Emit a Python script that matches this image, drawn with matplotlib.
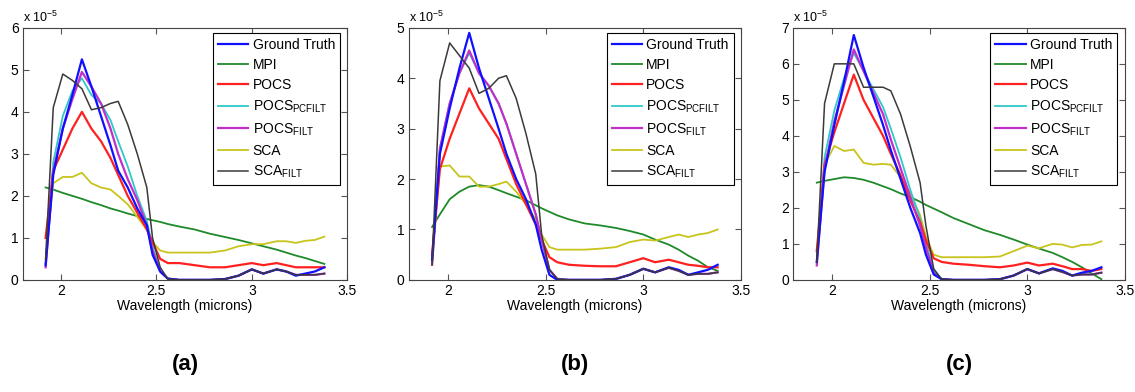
import matplotlib
matplotlib.use("Agg")
import matplotlib.pyplot as plt

plt.rcParams['font.family'] = ['Liberation Sans', 'DejaVu Sans']
plt.rcParams['mathtext.default'] = 'regular'

wavelength = [1.92, 1.96, 2.01, 2.06, 2.11, 2.16, 2.21, 2.26, 2.30, 2.35, 2.40, 2.45, 2.48, 2.52,
              2.56, 2.62, 2.70, 2.78, 2.86, 2.93, 3.00, 3.06, 3.13, 3.18, 3.23, 3.28, 3.33, 3.38]

series_names = ["Ground Truth", "MPI", "POCS", "POCS$_{PCFILT}$", "POCS$_{FILT}$", "SCA", "SCA$_{FILT}$"]
panel_labels = ["(a)", "(b)", "(c)"]
y_max = [6, 5, 7]

# values in units of 1e-5
a_truth = [0.35, 2.5, 3.6, 4.4, 5.25, 4.6, 3.9, 3.2, 2.6, 2.2, 1.7, 1.3, 0.6, 0.2, 0.03, 0, 0, 0, 0.02, 0.1, 0.25, 0.15, 0.25, 0.2, 0.1, 0.15, 0.2, 0.3]
a_mpi = [2.2, 2.15, 2.07, 2.0, 1.93, 1.85, 1.78, 1.7, 1.65, 1.58, 1.52, 1.45, 1.42, 1.38, 1.33, 1.27, 1.2, 1.1, 1.02, 0.95, 0.87, 0.8, 0.72, 0.65, 0.58, 0.52, 0.45, 0.38]
a_pocs = [1.0, 2.6, 3.1, 3.6, 4.0, 3.6, 3.3, 2.9, 2.5, 2.0, 1.6, 1.2, 0.9, 0.5, 0.4, 0.4, 0.35, 0.3, 0.3, 0.35, 0.4, 0.35, 0.4, 0.35, 0.3, 0.3, 0.3, 0.3]
a_pocs_pc = [0.4, 2.8, 3.9, 4.5, 4.8, 4.4, 4.2, 3.8, 3.3, 2.7, 2.0, 1.4, 0.8, 0.2, 0.03, 0, 0, 0, 0.02, 0.1, 0.25, 0.15, 0.25, 0.2, 0.12, 0.12, 0.12, 0.15]
a_pocs_f = [0.3, 2.6, 3.6, 4.3, 4.95, 4.6, 4.2, 3.6, 3.0, 2.4, 1.9, 1.3, 0.7, 0.2, 0.03, 0, 0, 0, 0.02, 0.1, 0.25, 0.15, 0.25, 0.2, 0.12, 0.12, 0.12, 0.15]
a_sca = [0.5, 2.3, 2.45, 2.45, 2.55, 2.3, 2.2, 2.15, 2.0, 1.8, 1.5, 1.2, 0.9, 0.7, 0.65, 0.65, 0.65, 0.65, 0.7, 0.8, 0.85, 0.85, 0.92, 0.92, 0.88, 0.93, 0.95, 1.03]
a_sca_f = [0.5, 4.1, 4.9, 4.75, 4.55, 4.05, 4.1, 4.2, 4.25, 3.7, 3.0, 2.2, 1.0, 0.3, 0.02, 0, 0, 0, 0.02, 0.1, 0.25, 0.15, 0.25, 0.2, 0.12, 0.12, 0.12, 0.15]

b_truth = [0.4, 2.5, 3.4, 4.2, 4.9, 4.2, 3.6, 3.0, 2.5, 2.0, 1.6, 1.1, 0.6, 0.1, 0.0, 0, 0, 0, 0.02, 0.1, 0.22, 0.15, 0.25, 0.2, 0.1, 0.15, 0.2, 0.3]
b_mpi = [1.05, 1.3, 1.6, 1.75, 1.85, 1.88, 1.85, 1.78, 1.72, 1.65, 1.58, 1.48, 1.42, 1.35, 1.28, 1.2, 1.12, 1.08, 1.03, 0.97, 0.9, 0.8, 0.7, 0.6, 0.48, 0.38, 0.25, 0.18]
b_pocs = [0.5, 2.2, 2.8, 3.3, 3.8, 3.4, 3.1, 2.8, 2.4, 1.9, 1.5, 1.1, 0.8, 0.45, 0.35, 0.3, 0.28, 0.27, 0.27, 0.35, 0.43, 0.35, 0.4, 0.35, 0.3, 0.28, 0.25, 0.25]
b_pocs_pc = [0.35, 2.6, 3.5, 4.1, 4.5, 4.1, 3.85, 3.5, 3.1, 2.5, 1.9, 1.3, 0.8, 0.2, 0.02, 0, 0, 0, 0.02, 0.1, 0.22, 0.15, 0.24, 0.18, 0.1, 0.12, 0.12, 0.15]
b_pocs_f = [0.3, 2.6, 3.5, 4.1, 4.55, 4.1, 3.85, 3.5, 3.1, 2.5, 1.9, 1.3, 0.8, 0.2, 0.02, 0, 0, 0, 0.02, 0.1, 0.22, 0.15, 0.24, 0.18, 0.1, 0.12, 0.12, 0.15]
b_sca = [0.3, 2.25, 2.27, 2.05, 2.05, 1.85, 1.85, 1.9, 1.95, 1.75, 1.5, 1.2, 0.9, 0.65, 0.6, 0.6, 0.6, 0.62, 0.65, 0.75, 0.8, 0.78, 0.85, 0.9, 0.85, 0.9, 0.93, 1.0]
b_sca_f = [0.3, 3.95, 4.7, 4.45, 4.2, 3.7, 3.8, 4.0, 4.05, 3.6, 2.9, 2.1, 0.9, 0.2, 0.02, 0, 0, 0, 0.02, 0.1, 0.22, 0.15, 0.24, 0.18, 0.1, 0.12, 0.12, 0.15]

c_truth = [0.5, 3.0, 4.3, 5.5, 6.8, 5.9, 5.1, 4.3, 3.6, 2.8, 2.0, 1.3, 0.7, 0.15, 0.02, 0, 0, 0, 0.02, 0.12, 0.3, 0.18, 0.32, 0.25, 0.12, 0.2, 0.25, 0.35]
c_mpi = [2.7, 2.75, 2.8, 2.85, 2.83, 2.78, 2.7, 2.6, 2.52, 2.4, 2.3, 2.17, 2.08, 1.98, 1.88, 1.72, 1.55, 1.38, 1.25, 1.12, 0.98, 0.87, 0.75, 0.63, 0.5, 0.35, 0.18, 0.02]
c_pocs = [0.8, 3.2, 4.1, 4.9, 5.7, 5.0, 4.5, 4.0, 3.5, 2.9, 2.2, 1.6, 1.1, 0.6, 0.5, 0.45, 0.42, 0.38, 0.35, 0.4, 0.48, 0.4, 0.45, 0.38, 0.3, 0.3, 0.25, 0.3]
c_pocs_pc = [0.5, 3.4, 4.7, 5.6, 6.3, 5.8, 5.3, 4.8, 4.2, 3.4, 2.5, 1.7, 1.0, 0.3, 0.03, 0, 0, 0, 0.02, 0.12, 0.3, 0.18, 0.3, 0.22, 0.12, 0.15, 0.15, 0.2]
c_pocs_f = [0.4, 3.1, 4.4, 5.4, 6.4, 5.8, 5.2, 4.6, 3.9, 3.1, 2.3, 1.5, 0.9, 0.2, 0.02, 0, 0, 0, 0.02, 0.12, 0.3, 0.18, 0.3, 0.22, 0.12, 0.15, 0.15, 0.2]
c_sca = [0.5, 3.2, 3.72, 3.58, 3.62, 3.25, 3.2, 3.22, 3.2, 2.85, 2.4, 1.8, 1.2, 0.7, 0.63, 0.63, 0.63, 0.63, 0.65, 0.8, 0.95, 0.88, 1.0, 0.98, 0.9, 0.97, 0.98, 1.07]
c_sca_f = [0.5, 4.9, 6.0, 6.0, 6.0, 5.35, 5.35, 5.35, 5.25, 4.6, 3.7, 2.7, 1.5, 0.3, 0.02, 0, 0, 0, 0.02, 0.12, 0.3, 0.18, 0.3, 0.22, 0.12, 0.15, 0.15, 0.2]

panels = [
    [a_truth, a_mpi, a_pocs, a_pocs_pc, a_pocs_f, a_sca, a_sca_f],
    [b_truth, b_mpi, b_pocs, b_pocs_pc, b_pocs_f, b_sca, b_sca_f],
    [c_truth, c_mpi, c_pocs, c_pocs_pc, c_pocs_f, c_sca, c_sca_f],
]

colors = ["#1010ff", "#1f8a2a", "#ff2020", "#30c8c8", "#c030c8", "#c8c41c", "#3a3a3a"]
widths = [1.6, 1.3, 1.6, 1.3, 1.6, 1.3, 1.1]
zorders = [6, 2, 4, 3, 5, 2, 7]

fig = plt.figure(figsize=(11.35, 3.92), dpi=100)
lefts = [0.020, 0.360, 0.699]
w = [0.286, 0.293, 0.292]
for i in range(3):
    ax = fig.add_axes([lefts[i], 0.286, w[i], 0.643])
    for k in range(7):
        ax.plot(wavelength, panels[i][k], color=colors[k], lw=widths[k],
                zorder=zorders[k], label=series_names[k])
    ax.set_xlim(1.8, 3.5)
    ax.set_ylim(0, y_max[i])
    ax.set_xticks([2, 2.5, 3, 3.5])
    ax.set_xticklabels(["2", "2.5", "3", "3.5"])
    ax.set_yticks(range(0, y_max[i] + 1))
    ax.tick_params(direction='in', top=True, right=True, labelsize=10, length=4,
                   color='#555555', pad=3)
    for s in ax.spines.values():
        s.set_color('#444444')
        s.set_linewidth(0.8)
    ax.set_xlabel("Wavelength (microns)", fontsize=10, labelpad=1)
    ax.text(0.0, 1.012, "x 10$^{-5}$", transform=ax.transAxes, ha='left', va='bottom',
            fontsize=9)
    leg = ax.legend(loc='upper right', bbox_to_anchor=(0.977, 0.98), borderaxespad=0,
                    fontsize=10, fancybox=False, edgecolor='black', framealpha=1,
                    handlelength=2.2, handletextpad=0.3, labelspacing=0.45,
                    borderpad=0.35)
    leg.get_frame().set_linewidth(0.8)
    fig.text(lefts[i] + w[i] * 0.5, 0.07, panel_labels[i], ha='center', va='center',
             fontsize=16, fontweight='bold')

fig.savefig("out.png", dpi=100)
